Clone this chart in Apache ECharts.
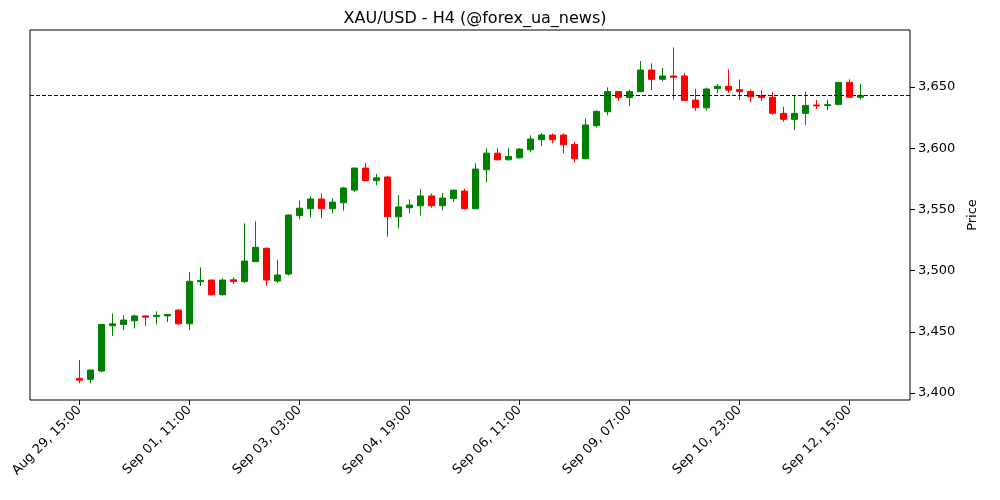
<!DOCTYPE html>
<html><head><meta charset="utf-8">
<script src="https://cdn.jsdelivr.net/npm/echarts@6/dist/echarts.min.js"></script>
<style>html,body{margin:0;padding:0;background:#fff}#c{width:1000px;height:500px}</style>
</head><body><div id="c"></div>
<script>
const tickLabels = ['Aug 29, 15:00','Sep 01, 11:00','Sep 03, 03:00','Sep 04, 19:00','Sep 06, 11:00','Sep 09, 07:00','Sep 10, 23:00','Sep 12, 15:00'];
const yTicks = [3400,3450,3500,3550,3600,3650];
const refLine = 3643;
const opens = [3412,3411.2,3418,3455,3456,3459,3463,3462.5,3463,3467.8,3456.6,3491,3492.3,3480.3,3492.5,3491,3507.3,3518.2,3491.5,3497.2,3545,3550.6,3558.5,3550.6,3555.5,3565.8,3583.8,3573.5,3576.5,3544,3551.4,3553,3561,3553,3559,3565,3550.6,3582.4,3596,3590.6,3592.2,3598.8,3607,3610.8,3610.8,3603.1,3591.4,3618.4,3629.8,3646.3,3641.4,3646.2,3663.9,3656.3,3659,3659,3639.4,3633,3648.7,3650.6,3648,3646.3,3642.9,3641.6,3628.5,3623.6,3628.5,3635.3,3634.8,3635.8,3653.8,3641.6];
const closes = [3410.5,3418.8,3456,3456.5,3459.6,3463,3462,3463.5,3464.2,3456.6,3491.3,3492,3480.3,3492.3,3491,3507.8,3519,3492.3,3496.4,3545.4,3551,3558.5,3550.6,3556,3567.5,3583.8,3573.5,3575.8,3544.1,3552,3553.6,3561,3553,3559.3,3565.8,3550.6,3583,3596,3590.6,3593.3,3599.3,3607.5,3610.8,3607,3602.8,3591.4,3619,3630.1,3646.3,3641.4,3646.3,3663.9,3656.3,3659,3658,3639,3633.1,3648.4,3650.6,3647.5,3646.2,3642,3641.3,3628.5,3623.6,3628.5,3635,3634.6,3635.6,3653.8,3641.6,3643.1];
const lows = [3408,3408,3417,3446.6,3451.5,3452.8,3455,3456,3458,3455.5,3451.5,3487.4,3480,3479.5,3489,3490,3507,3487.4,3490,3496,3542,3543.5,3542.7,3546.8,3549,3564,3573,3569.6,3527.7,3534.5,3546.8,3545,3551.4,3549.3,3556.3,3550,3550,3572,3590,3590,3591.5,3596.6,3601.8,3604,3595.8,3588.4,3591,3617,3626.9,3638.8,3634.5,3646,3647.5,3654.6,3640,3638.5,3630.6,3630.6,3644.9,3645.3,3639.4,3637.7,3638.6,3627.4,3621.7,3614.9,3619,3632,3631.2,3635,3641,3640];
const highs = [3427,3419,3456.5,3465,3463.5,3464,3463.5,3466.7,3464.5,3468,3498.9,3502.7,3492.5,3493.7,3494.5,3538.6,3540.3,3519,3508.7,3546,3557.4,3560.7,3563,3559,3568.5,3584,3587.7,3579,3577.5,3561.8,3558.2,3566.4,3563,3563.4,3566,3567,3587.7,3599.9,3600,3600,3600,3610.5,3612.4,3612,3612,3605.3,3624.4,3631,3649.7,3646.5,3648,3671.2,3669.4,3665.5,3682.4,3661.5,3648.5,3649.5,3652.5,3664.3,3656.2,3648,3647.5,3645.7,3634,3643.5,3646.2,3639.4,3639.7,3654,3656.3,3652.5];

const PAD = 4;
const cats = [], data = [];
for (let i = 0; i < PAD; i++) { cats.push('p' + i); data.push('-'); }
for (let i = 0; i < opens.length; i++) { cats.push(String(i)); data.push([opens[i], closes[i], lows[i], highs[i]]); }
for (let i = 0; i < PAD; i++) { cats.push('q' + i); data.push('-'); }
const isTick = idx => idx >= PAD && (idx - PAD) % 10 === 0 && (idx - PAD) / 10 < tickLabels.length;

const chart = echarts.init(document.getElementById('c'));
chart.setOption({
  animation: false,
  title: { text: 'XAU/USD - H4 (@forex_ua_news)', left: 470, top: 6, textAlign: 'center',
    textStyle: { fontFamily: 'DejaVu Sans', fontSize: 16, fontWeight: 'normal', color: '#000' } },
  grid: { left: 30, right: 90, top: 30, bottom: 100, show: true, borderColor: '#000', borderWidth: 1, backgroundColor: 'transparent' },
  xAxis: {
    type: 'category', data: cats, boundaryGap: true,
    axisLine: { show: false },
    axisTick: { show: true, alignWithLabel: true, interval: (idx) => isTick(idx), length: 5, lineStyle: { color: '#000' } },
    axisLabel: { interval: (idx) => isTick(idx), rotate: 45, fontFamily: 'DejaVu Sans', fontSize: 13, color: '#000', margin: 8,
      formatter: (v, idx) => isTick(idx) ? tickLabels[(idx - PAD) / 10] : '' },
    splitLine: { show: false }
  },
  yAxis: {
    type: 'value', position: 'right', min: 3394.3, max: 3696.6, scale: true,
    name: 'Price', nameLocation: 'middle', nameGap: 50, nameRotate: 90,
    nameTextStyle: { fontFamily: 'DejaVu Sans', fontSize: 13, color: '#000' },
    axisLine: { show: false },
    axisTick: { show: true, length: 5, customValues: yTicks, lineStyle: { color: '#000' } },
    axisLabel: { customValues: yTicks, fontFamily: 'DejaVu Sans', fontSize: 13, color: '#000', margin: 8 },
    splitLine: { show: false }
  },
  series: [{
    type: 'candlestick', data: data, barWidth: 7,
    itemStyle: { color: '#008000', color0: '#ff0000', borderColor: '#008000', borderColor0: '#ff0000', borderWidth: 1 },
    markLine: { symbol: 'none', silent: true, label: { show: false },
      lineStyle: { color: '#00008b', type: [4, 2], width: 1 },
      data: [{ yAxis: refLine }] }
  }]
});
</script></body></html>
